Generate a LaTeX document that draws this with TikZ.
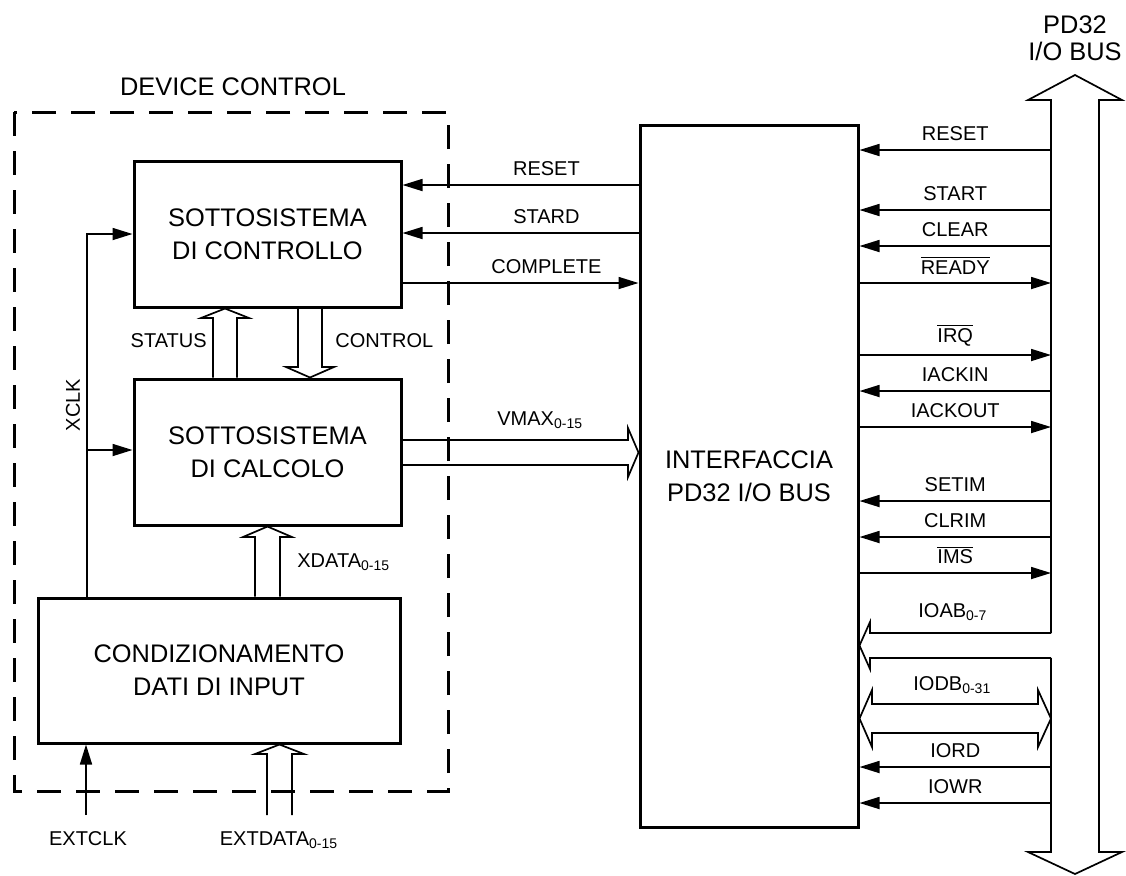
\documentclass[tikz,border=0pt]{standalone}
\usepackage{fontspec}
\setmainfont{Liberation Sans}
\usepackage{tikz}
\usetikzlibrary{arrows.meta, positioning, calc}
\newcommand{\ovl}[1]{$\overline{\mbox{#1}}$}
\tikzset{
  block/.style={rectangle, draw, line width=1.5pt, align=center, inner sep=0pt,
    font=\fontsize{12.7}{16.5}\selectfont},
  arrow/.style={-{Triangle[length=10pt,width=6pt]}, line width=0.85pt},
  line/.style={line width=0.85pt},
  bus/.style={line width=0.85pt, line join=miter},
  sig/.style={above, inner sep=4pt, font=\fontsize{10}{12}\selectfont},
  lbl/.style={inner sep=0pt, font=\fontsize{10}{12}\selectfont},
  title/.style={inner sep=0pt, align=center, font=\fontsize{12.7}{13.5}\selectfont},
  dashbox/.style={line width=1.5pt, dash pattern=on 12pt off 7.5pt}
}

\begin{document}
\begin{tikzpicture}[x=0.5pt, y=-0.5pt]
  \useasboundingbox (0,0) rectangle (1126,875);

  % device control
  \draw[dashbox] (14,112) rectangle (448,791);
  \node[title, anchor=base] (devlbl) at (233,95) {DEVICE CONTROL};

  \node[block, minimum width=133.5pt, minimum height=73pt] (ctrl) at (267.5,234) {SOTTOSISTEMA\\DI CONTROLLO};
  \node[block, minimum width=133.5pt, minimum height=73pt] (calc) at (267.5,452) {SOTTOSISTEMA\\DI CALCOLO};
  \node[block, minimum width=181pt, minimum height=72.5pt] (cond) at (219,670.5) {CONDIZIONAMENTO\\DATI DI INPUT};
  \node[block, minimum width=109pt, minimum height=351pt] (iface) at (749,476) {INTERFACCIA\\PD32 I/O BUS};

  % status / control
  \draw[bus] (calc.north -| 213,0) -- (213,318) -- (201,318) -- (ctrl.south -| 225,0)
    -- (249,318) -- (237,318) -- (calc.north -| 237,0);
  \draw[bus] (ctrl.south -| 298,0) -- (298,367) -- (286,367) -- (calc.north -| 310,0)
    -- (334,367) -- (322,367) -- (ctrl.south -| 322,0);
  \node[lbl, anchor=base east] (statlbl) at (207,347) {STATUS};
  \node[lbl, anchor=base west] (ctllbl) at (335,347) {CONTROL};

  % xdata
  \draw[bus] (cond.north -| 255,0) -- (255,537) -- (243,537) -- (calc.south -| 267.5,0)
    -- (292,537) -- (280,537) -- (cond.north -| 280,0);
  \node[lbl, anchor=base west] (xdatalbl) at (297,567) {XDATA\textsubscript{0-15}};

  % clock
  \coordinate (xclk) at (87,450);
  \draw[arrow] (cond.north -| xclk) |- (ctrl.west |- 0,234);
  \draw[arrow] (xclk) -- (calc.west |- xclk);
  \node[lbl, rotate=90] (xclklbl) at (73,405) {XCLK};

  % external inputs
  \coordinate (extclk) at (86,815);
  \draw[arrow] (extclk) -- (cond.south -| extclk);
  \node[lbl, anchor=base] (extclklbl) at (88,845) {EXTCLK};
  \draw[bus] (267,815) -- (267,754) -- (255,754) -- (cond.south -| 279.5,0)
    -- (304,754) -- (292,754) -- (292,815);
  \node[lbl, anchor=base] (extdatalbl) at (279,845) {EXTDATA\textsubscript{0-15}};

  % control <-> interface
  \draw[arrow] (iface.west |- 0,185) -- node[sig, pos=0.39]{RESET} (ctrl.east |- 0,185);
  \draw[arrow] (iface.west |- 0,233) -- node[sig, pos=0.39]{STARD} (ctrl.east |- 0,233);
  \draw[arrow] (ctrl.east |- 0,283) -- node[sig, pos=0.61]{COMPLETE} (iface.west |- 0,283);
  \draw[bus] (calc.east |- 0,440) -- (628,440) -- (628,428) -- (iface.west |- 0,452.5)
    -- (628,477) -- (628,465) -- (calc.east |- 0,465);
  \node[lbl, anchor=base west] (vmaxlbl) at (497,425) {VMAX\textsubscript{0-15}};

  % PD32 bus
  \coordinate (busL) at (1051,100);
  \draw[bus] (busL |- 0,633) -- (busL) -- (1028,100) -- (1075,75) -- (1122,100) -- (1099,100)
    -- (1099,852) -- (1122,852) -- (1075,874) -- (1028,852) -- (1051,852) -- (busL |- 0,658);
  \node[title] (buslbl) at (1075,38) {PD32\\I/O BUS};

  \draw[arrow] (busL |- 0,150) -- node[sig]{RESET} (iface.east |- 0,150);
  \draw[arrow] (busL |- 0,210) -- node[sig]{START} (iface.east |- 0,210);
  \draw[arrow] (busL |- 0,246) -- node[sig]{CLEAR} (iface.east |- 0,246);
  \draw[arrow] (iface.east |- 0,283) -- node[sig]{\ovl{READY}} (busL |- 0,283);
  \draw[arrow] (iface.east |- 0,355) -- node[sig]{\ovl{IRQ}} (busL |- 0,355);
  \draw[arrow] (busL |- 0,391) -- node[sig]{IACKIN} (iface.east |- 0,391);
  \draw[arrow] (iface.east |- 0,427) -- node[sig]{IACKOUT} (busL |- 0,427);
  \draw[arrow] (busL |- 0,501) -- node[sig]{SETIM} (iface.east |- 0,501);
  \draw[arrow] (busL |- 0,537) -- node[sig]{CLRIM} (iface.east |- 0,537);
  \draw[arrow] (iface.east |- 0,573) -- node[sig]{\ovl{IMS}} (busL |- 0,573);

  \draw[bus] (busL |- 0,633) -- (870,633) -- (870,622) -- (iface.east |- 0,645.5)
    -- (870,669) -- (870,658) -- (busL |- 0,658);
  \node[lbl, anchor=base west] (ioablbl) at (918,617) {IOAB\textsubscript{0-7}};
  \draw[bus] (872,704) -- (1038,704) -- (1038,690) -- (busL |- 0,718.5) -- (1038,747)
    -- (1038,733) -- (872,733) -- (872,747) -- (iface.east |- 0,718.5) -- (872,690) -- cycle;
  \node[lbl, anchor=base west] (iodblbl) at (913,690) {IODB\textsubscript{0-31}};

  \draw[arrow] (busL |- 0,767) -- node[sig]{IORD} (iface.east |- 0,767);
  \draw[arrow] (busL |- 0,803) -- node[sig]{IOWR} (iface.east |- 0,803);
\end{tikzpicture}
\end{document}
